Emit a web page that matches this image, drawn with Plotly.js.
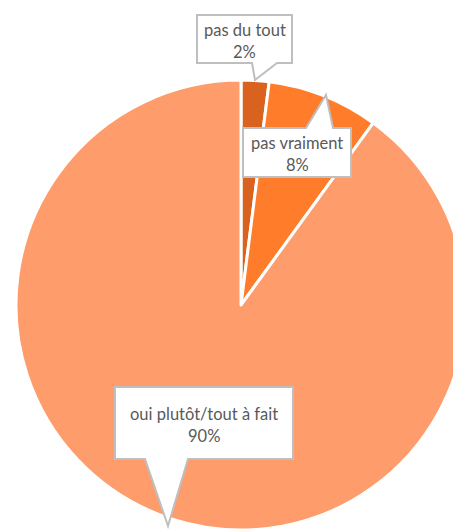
<!DOCTYPE html>
<html>
<head>
<meta charset="utf-8">
<script src="https://cdn.plot.ly/plotly-3.0.1.min.js"></script>
<style>
html,body{margin:0;padding:0;overflow:hidden;background:#fff;}
#chart{width:480px;height:531px;}
</style>
</head>
<body>
<div id="chart"></div>
<script>
var categories = ["pas du tout", "pas vraiment", "oui plutôt/tout à fait"];
var values = [2, 8, 90];
var percentLabels = ["2%", "8%", "90%"];
var colors = ["#D9621F", "#FF7D2A", "#FF9C6B"];

var W = 480, H = 531;
function px(x){ return x / W; }
function py(y){ return 1 - y / H; }
function pathFromPts(pts){
  return pts.map(function(p, i){ return (i ? "L" : "M") + px(p[0]).toFixed(5) + "," + py(p[1]).toFixed(5); }).join(" ") + " Z";
}

// callout geometry (pixels): box [l,t,r,b], pointer base on edge and tip
var callouts = [
  {box:[197,15,292,63], base:[252,277], edge:"bottom", tip:[255,80]},
  {box:[243,128,351,177], base:[306,333], edge:"top", tip:[326,95]},
  {box:[115,387,293,459], base:[145,188], edge:"bottom", tip:[168,526]}
];

var shapes = callouts.map(function(c){
  var l=c.box[0], t=c.box[1], r=c.box[2], b=c.box[3];
  var pts;
  if (c.edge === "bottom") {
    pts = [[l,t],[r,t],[r,b],[c.base[1],b],c.tip,[c.base[0],b],[l,b]];
  } else {
    pts = [[l,t],[c.base[0],t],c.tip,[c.base[1],t],[r,t],[r,b],[l,b]];
  }
  return {type:"path", xref:"paper", yref:"paper", path:pathFromPts(pts),
          fillcolor:"#FFFFFF", line:{color:"#BFBFBF", width:2}, layer:"above"};
});

var font = {family:"Lato, 'Open Sans', sans-serif", size:16.5, color:"#595959"};
var annotations = [];
callouts.forEach(function(c, i){
  var cx = (c.box[0]+c.box[2])/2, cy = (c.box[1]+c.box[3])/2 + 1.5;
  [categories[i], percentLabels[i]].forEach(function(t, k){
    annotations.push({xref:"paper", yref:"paper", x:px(cx), y:py(cy + (k ? 11 : -11)),
      xanchor:"center", yanchor:"middle", showarrow:false, align:"center",
      text:t, font:font});
  });
});

var trace = {
  type:"pie",
  labels: categories,
  values: values,
  sort:false,
  direction:"clockwise",
  rotation:0,
  textinfo:"none",
  hoverinfo:"none",
  marker:{colors:colors, line:{color:"#FFFFFF", width:3}},
  domain:{x:[px(16), px(466)], y:[py(530), py(80)]},
  showlegend:false
};

var layout = {
  width:W, height:H,
  margin:{l:0,r:0,t:0,b:0},
  paper_bgcolor:"#FFFFFF",
  showlegend:false,
  shapes:shapes,
  annotations:annotations
};

Plotly.newPlot("chart", [trace], layout, {staticPlot:true, displayModeBar:false});
</script>
</body>
</html>
